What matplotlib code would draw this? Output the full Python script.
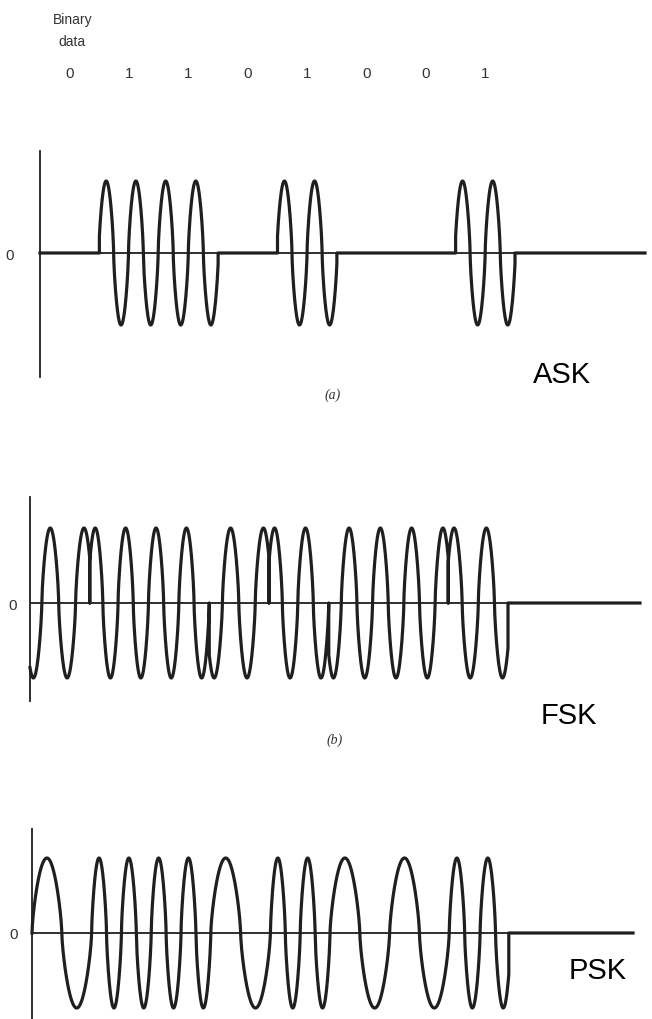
import numpy as np
import matplotlib
matplotlib.use('Agg')
import matplotlib.pyplot as plt
from matplotlib.transforms import blended_transform_factory

# ---------------- data ----------------
bits = [0, 1, 1, 0, 1, 0, 0, 1]
bit_labels = ['0', '1', '1', '0', '1', '0', '0', '1']

# (a) ASK: amplitude, start phase (cycles) and carrier cycles of every bit
ask_amp = [0, 1, 1, 0, 1, 0, 0, 1]
ask_phase0 = [0.0, 0.02, 0.02, 0.0, 0.02, 0.0, 0.0, 0.02]
ask_cycles = [0.0, 2.0, 1.97, 0.0, 1.97, 0.0, 0.0, 1.97]

# (b) waveform labelled FSK
fsk_amp = [1, 1, 1, 1, 1, 1, 1, 1]
fsk_phase0 = [0.65, 0.07, 0.035, 0.60, 0.07, 0.60, 0.51, 0.07]
fsk_cycles = [1.77, 1.965, 1.965, 1.82, 1.93, 1.91, 1.91, 1.85]

# (c) waveform labelled PSK
psk_amp = [1, 1, 1, 1, 1, 1, 1, 1]
psk_phase0 = [0.0, 0.0, 0.0, 0.0, 0.0, 0.0, 0.0, 0.0]
psk_cycles = [1.0, 2.0, 2.0, 1.0, 2.0, 1.0, 1.0, 1.93]

panel_labels = ['ASK', 'FSK', 'PSK']
sub_labels = ['(a)', '(b)']

# ---------------- helpers ----------------
W, H = 652, 1020
INK = '#1f1f1f'
SHAPE = 0.7   # rounder, hand-drawn looking loops
fig = plt.figure(figsize=(W / 100, H / 100), dpi=100)
fig.patch.set_facecolor('white')


def build(amp, ph0, cyc, tail_end, n=300):
    xs, ys = [], []
    prev = None
    for k in range(len(amp)):
        u = np.linspace(0, 1, n)
        p = ph0[k] + cyc[k] * u
        s = np.sin(2 * np.pi * p)
        y = amp[k] * np.sign(s) * np.abs(s) ** SHAPE
        x = k + u
        if prev is not None and abs(prev - y[0]) > 1e-6:
            xs.append(k); ys.append(0.0)
        xs.extend(x); ys.extend(y)
        prev = y[-1]
    nb = len(amp)
    xs += [nb, nb, tail_end]
    ys += [0.0, 0.0, 0.0]
    return np.array(xs), np.array(ys)


def add_panel(axis_x, end_x, top_px, bot_px, zero_px, amp_px, bit_w, zero_pad):
    ax = fig.add_axes([axis_x / W, 1 - bot_px / H, (end_x - axis_x) / W, (bot_px - top_px) / H])
    xmax = (end_x - axis_x) / bit_w
    ax.set_xlim(0, xmax)
    ax.set_ylim(-(bot_px - zero_px) / amp_px, (zero_px - top_px) / amp_px)
    for s in ['top', 'right', 'bottom']:
        ax.spines[s].set_visible(False)
    ax.spines['left'].set_color(INK)
    ax.spines['left'].set_linewidth(1.3)
    ax.set_xticks([])
    ax.set_yticks([0])
    ax.set_yticklabels(['0'], fontsize=11, color='#333333', family='Liberation Sans')
    ax.tick_params(axis='y', length=0, pad=zero_pad)
    ax.axhline(0, color=INK, lw=1.3, zorder=1)
    ax.patch.set_alpha(0)
    return ax, xmax


LW = 2.3
# (a) ASK
ax1, xm1 = add_panel(40, 645, 152, 378, 254, 72, 59.375, 19)
x, y = build(ask_amp, ask_phase0, ask_cycles, xm1)
ax1.plot(x, y, color=INK, lw=LW, solid_joinstyle='round', clip_on=False, zorder=3)

# (b) FSK label panel
ax2, xm2 = add_panel(30, 640, 498, 702, 604, 75, 59.75, 9.5)
x, y = build(fsk_amp, fsk_phase0, fsk_cycles, xm2)
ax2.plot(x, y, color=INK, lw=LW, solid_joinstyle='round', clip_on=False, zorder=3)

# (c) PSK label panel
ax3, xm3 = add_panel(32, 633, 830, 1020, 934, 75, 59.6, 10)
x, y = build(psk_amp, psk_phase0, psk_cycles, xm3)
ax3.plot(x, y, color=INK, lw=LW, solid_joinstyle='round', clip_on=False, zorder=3)

# ---------------- texts ----------------
def ftext(px, py, s, **kw):
    fig.text(px / W, 1 - py / H, s, ha='center', va='center', **kw)

ftext(73, 20, 'Binary', fontsize=10, color='#333333', family='Liberation Sans')
ftext(72, 42, 'data', fontsize=10, color='#333333', family='Liberation Sans')

tr = blended_transform_factory(ax1.transData, fig.transFigure)
for k, lab in enumerate(bit_labels):
    ax1.text(k + 0.5, 1 - 74 / H, lab, transform=tr, ha='center', va='center',
             fontsize=11, color='#333333', family='Liberation Sans')

ftext(562, 375, panel_labels[0], fontsize=21, color='black', family='Liberation Sans')
ftext(569, 716, panel_labels[1], fontsize=21, color='black', family='Liberation Sans')
ftext(598, 971, panel_labels[2], fontsize=21, color='black', family='Liberation Sans')
ftext(333, 395, sub_labels[0], fontsize=10, color='#333333', family='Liberation Serif', style='italic')
ftext(335, 740, sub_labels[1], fontsize=10, color='#333333', family='Liberation Serif', style='italic')

fig.savefig('out.png', dpi=100, facecolor='white')
